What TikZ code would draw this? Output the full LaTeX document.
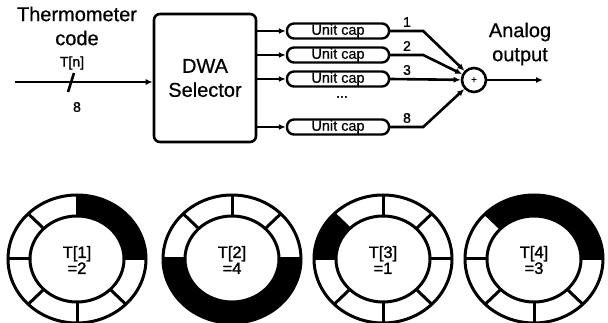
\documentclass[tikz,border=0pt]{standalone}
\usepackage{fontspec}
\setmainfont{Liberation Sans}[FakeBold=0.6]
\newfontfamily\labelfont{Liberation Sans}[FakeBold=1.4]
\usetikzlibrary{arrows.meta, positioning}

\tikzset{
  selbox/.style={draw, line width=2.6pt, rounded corners=6pt, minimum width=102pt, minimum height=128pt, align=center},
  capbox/.style={draw, line width=2.4pt, rounded corners=7pt, minimum width=102pt, minimum height=15pt, inner sep=0pt, font=\fontsize{14.5}{14}\selectfont},
  wire/.style={line width=2.6pt, -{Latex[length=7pt,width=6pt]}},
  ring/.style={line width=3pt},
  small/.style={font=\labelfont\fontsize{14}{14}\selectfont},
  ringlabel/.style={align=center, inner sep=0pt, font=\labelfont\fontsize{16.5}{16}\selectfont}
}

\begin{document}
\begin{tikzpicture}[x=1pt, y=-1pt, every node/.style={font=\fontsize{20}{24}\selectfont}]
\useasboundingbox (0,0) rectangle (608,323);

% input side
\node[align=center] (therm) at (77,26) {Thermometer\\code};
\node[selbox] (sel) at (205,78) {DWA\\Selector};
\coordinate (in) at (15,82);
\draw[wire] (in) -- (in -| sel.west);
\coordinate (slashlo) at (68,92);
\coordinate (slashhi) at (74,73);
\draw[line width=2.6pt] (slashlo) -- (slashhi);
\node[small] (tn) at (72,63) {T[n]};
\node[small] (nbits) at (77,107) {8};

% unit caps
\node[capbox] (cap1) at (338,31) {Unit cap};
\node[capbox] (cap2) at (338,55) {Unit cap};
\node[capbox] (cap3) at (338,79) {Unit cap};
\node[capbox] (cap8) at (338,127) {Unit cap};
\node[small] (dots) at (342,97) {...};
\foreach \c in {cap1,cap2,cap3,cap8}
  \draw[wire] (sel.east |- \c) -- (\c.west);

% summing node
\node[circle, draw, line width=2.6pt, minimum size=24pt, inner sep=0pt, font=\fontsize{10}{10}\selectfont] (sum) at (474,80) {+};
\draw[wire] (cap1.east) -- ++(33,0) -- (sum);
\draw[wire] (cap2.east) -- ++(33,0) -- (sum);
\draw[wire] (cap3.east) -- (sum);
\draw[wire] (cap8.east) -- ++(33,0) -- (sum);
\node[small] (n1) at (407,22) {1};
\node[small] (n2) at (407,46) {2};
\node[small] (n3) at (407,70) {3};
\node[small] (n8) at (407,118) {8};
\coordinate (out) at (543,80);
\draw[wire] (sum) -- (out);
\node[align=center] (analog) at (520,44) {Analog\\output};

% rotation rings
\foreach \cx/\a/\b/\nm/\lab/\val in {77/0/90/ring1/1/2, 232/-180/0/ring2/2/4, 383/135/180/ring3/3/1, 534/0/135/ring4/4/3} {
  \begin{scope}[shift={(\cx,259)}, y=1pt]
    \fill (\a:69 and 64) arc[start angle=\a, end angle=\b, x radius=69, y radius=64]
      -- (\b:47 and 43) arc[start angle=\b, end angle=\a, x radius=47, y radius=43] -- cycle;
    \draw[ring] (0,0) ellipse [x radius=69, y radius=64];
    \draw[ring] (0,0) ellipse [x radius=47, y radius=43];
    \foreach \t in {0,45,...,315}
      \draw[ring] (\t:47 and 43) -- (\t:69 and 64);
    \node[ringlabel] (\nm) at (0,-1) {T[\lab]\\=\val};
  \end{scope}
}
\end{tikzpicture}
\end{document}
